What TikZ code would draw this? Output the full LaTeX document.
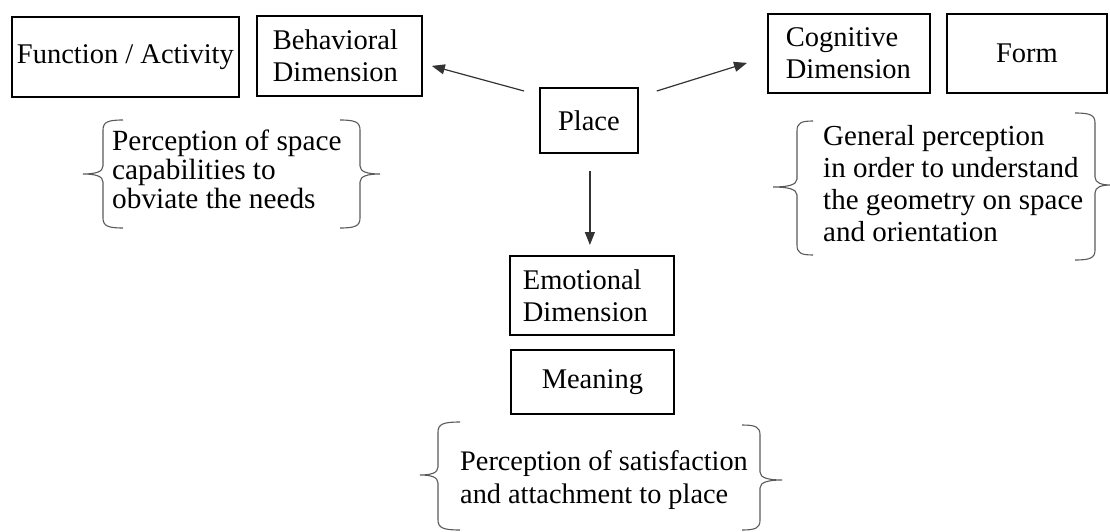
\documentclass[tikz,border=0pt]{standalone}
\usepackage{fontspec}
\setmainfont{Liberation Serif}
\usetikzlibrary{arrows.meta,calc}
\tikzset{
  box/.style={draw=black, line width=1.8pt, rectangle, inner sep=0pt, anchor=north west,
    font=\fontsize{28.5}{32}\selectfont},
  lbox/.style={box, align=left},
  txt/.style={inner sep=0pt, anchor=north west, align=left},
  arr/.style={draw=black!80, line width=1.2pt, -{Triangle[length=13pt,width=10pt]}},
  brc/.style={draw=black!65, line width=1.1pt}
}
\newcommand{\brk}[6]{%
  \draw[brc] ({#1+#2},#4) .. controls ({#1+0.25*#2},#4) and (#1,{#4+2}) .. (#1,{#4+10})
    -- (#1,{#6-8}) .. controls (#1,{#6-2}) and ({#1+0.4*#3},#6) .. ({#1+#3},#6)
    .. controls ({#1+0.4*#3},#6) and (#1,{#6+2}) .. (#1,{#6+8})
    -- (#1,{#5-10}) .. controls (#1,{#5-2}) and ({#1+0.25*#2},#5) .. ({#1+#2},#5);}
\begin{document}
\begin{tikzpicture}[x=1pt,y=-1pt]
\useasboundingbox (0,0) rectangle (1110,532);
% boxes
\node[box, minimum width=227pt, minimum height=80pt] (func) at (11,16) {Function / Activity};
\node[lbox, minimum width=165pt, minimum height=80pt, text width=133pt, inner xsep=16pt] (beh) at (256,15) {Behavioral\\Dimension};
\node[box, minimum width=98pt, minimum height=65pt] (place) at (539,87) {Place};
\node[lbox, minimum width=162pt, minimum height=79pt, text width=126pt, inner xsep=18pt] (cog) at (767,13) {Cognitive\\Dimension};
\node[box, minimum width=160pt, minimum height=79pt] (form) at (946,13) {Form};
\node[lbox, minimum width=164pt, minimum height=79pt, text width=138pt, inner xsep=13pt] (emo) at (509,255) {Emotional\\Dimension};
\node[box, minimum width=163pt, minimum height=64pt] (mean) at (510,349) {Meaning};
% brace texts
\node[txt, font=\fontsize{29.3}{29}\selectfont] (t1) at (112,130) {Perception of space\\capabilities to\\obviate the needs};
\node[txt, font=\fontsize{29}{32}\selectfont] (t2) at (823,125) {General perception\\in order to understand\\the geometry on space\\and orientation};
\node[txt, font=\fontsize{28.3}{33}\selectfont] (t3) at (460,450) {Perception of satisfaction\\and attachment to place};
% arrows
\coordinate (p1) at ($(place.north west)+(-15,4)$);
\coordinate (p2) at ($(place.north east)+(18,4)$);
\coordinate (p3) at ($(place.south)+(1,17)$);
\draw[arr] (p1) -- ($(beh.east)+(9,10)$);
\draw[arr] (p2) -- ($(cog.west)+(-20,9.5)$);
\draw[arr, shorten >=10pt] (p3) -- (p3 |- emo.north);
% braces
\brk{103}{20}{-20}{120}{228}{174}
\brk{360}{-20}{20}{120}{228}{174}
\brk{797}{16}{-24}{121}{255}{187}
\brk{1095}{-20}{16}{113}{260}{185}
\brk{438}{22}{-18}{422}{530}{475}
\brk{760}{-18}{22}{425}{530}{480}
\end{tikzpicture}
\end{document}
